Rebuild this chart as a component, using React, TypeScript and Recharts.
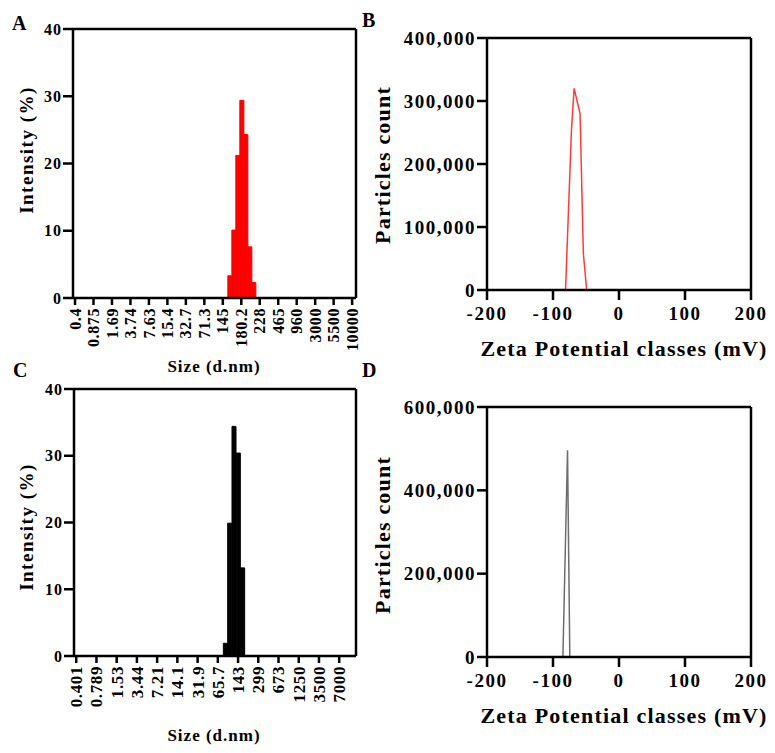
import React from "react";
import { BarChart, Bar, LineChart, Line, XAxis, YAxis, Label, ReferenceLine } from "recharts";

const FONT = "'Liberation Serif', 'Times New Roman', serif";

// A: size distribution by intensity (size class index on x)
const sizeLabelsA = ["0.4", "0.875", "1.69", "3.74", "7.63", "15.4", "32.7", "71.3", "145", "180.2", "228", "465", "960", "3000", "5500", "10000"];
const sizeClassA = [8.38, 8.597, 8.813, 9.03, 9.247, 9.463, 9.68];
const intensityA = [3.3, 10.1, 21.2, 29.4, 24.3, 7.6, 2.3];

// C: second sample
const sizeLabelsC = ["0.401", "0.789", "1.53", "3.44", "7.21", "14.1", "31.9", "65.7", "143", "299", "673", "1250", "3500", "7000"];
const sizeClassC = [7.38, 7.594, 7.808, 8.022, 8.236];
const intensityC = [1.9, 19.9, 34.4, 30.4, 13.2];

// B / D: zeta potential
const zetaB = [-81, -72, -68, -59, -54, -49];
const countB = [0, 255000, 320000, 280000, 58000, 0];
const zetaD = [-85, -78, -74.5];
const countD = [0, 496000, 0];

const intensityTicks = [0, 10, 20, 30, 40];
const zetaTicks = [-200, -100, 0, 100, 200];
const countTicksB = [0, 100000, 200000, 300000, 400000];
const countTicksD = [0, 200000, 400000, 600000];

const dataA = sizeClassA.map((pos, i) => ({ pos, value: intensityA[i] }));
const dataC = sizeClassC.map((pos, i) => ({ pos, value: intensityC[i] }));
const dataB = zetaB.map((zeta, i) => ({ zeta, count: countB[i] }));
const dataD = zetaD.map((zeta, i) => ({ zeta, count: countD[i] }));

const AXIS = { stroke: "#000", strokeWidth: 2.5 };
const fmtCount = (v: number) => v.toLocaleString("en-US");

function RotatedTick(props: any) {
  const { x, y, payload, labels, fontSize, spacing } = props;
  return (
    <text
      x={x}
      y={y}
      dy="0.35em"
      textAnchor="end"
      transform={`rotate(-90, ${x}, ${y})`}
      fontFamily={FONT}
      fontWeight="bold"
      fontSize={fontSize}
      letterSpacing={spacing}
      fill="#000"
    >
      {labels[payload.value]}
    </text>
  );
}

const title =
  (text: string, x: number, y: number, size: number, spacing: number, rotate = false) =>
  () =>
    (
      <text
        x={x}
        y={y}
        textAnchor="middle"
        dominantBaseline={rotate ? "central" : undefined}
        transform={rotate ? `rotate(-90, ${x}, ${y})` : undefined}
        fontFamily={FONT}
        fontWeight="bold"
        fontSize={size}
        letterSpacing={spacing}
        fill="#000"
      >
        {text}
      </text>
    );

const tickStyle = (size: number, spacing: number) => ({
  fill: "#000",
  fontSize: size,
  fontFamily: FONT,
  fontWeight: "bold",
  letterSpacing: spacing,
});

function SizePanel({ data, labels, color, domainMax, tickSize, top, xTitleY, yTitleY }: any) {
  return (
    <BarChart width={380} height={top === 0 ? 380 : 378} data={data} margin={{ top: top === 0 ? 29 : 14, right: 24, left: 0, bottom: 0 }} barCategoryGap={0}>
      <XAxis
        dataKey="pos"
        type="number"
        domain={[-0.11, domainMax]}
        ticks={labels.map((_: string, i: number) => i)}
        interval={0}
        height={top === 0 ? 82 : 97}
        stroke="#000"
        strokeWidth={2.5}
        axisLine={AXIS}
        tickLine={AXIS}
        tickSize={7}
        tickMargin={3}
        tick={(p: any) => <RotatedTick {...p} labels={labels} fontSize={tickSize} spacing={0.6} />}
      >
        <Label content={title("Size (d.nm)", 214, xTitleY, 17, 1)} />
      </XAxis>
      <YAxis
        type="number"
        domain={[0, 40]}
        ticks={intensityTicks}
        width={top === 0 ? 73 : 74}
        stroke="#000"
        strokeWidth={2.5}
        axisLine={AXIS}
        tickLine={AXIS}
        tickSize={10}
        tickMargin={1}
        tick={tickStyle(16, 1)}
      >
        <Label content={title("Intensity (%)", 26, yTitleY, 19, 1.5, true)} />
      </YAxis>
      <ReferenceLine y={40} stroke="#000" strokeWidth={2.5} ifOverflow="visible" />
      <ReferenceLine x={domainMax} stroke="#000" strokeWidth={2.5} ifOverflow="visible" />
      <Bar dataKey="value" fill={color} stroke={color} strokeWidth={1} isAnimationActive={false} />
    </BarChart>
  );
}

function ZetaPanel({ data, color, yMax, yTicks, top, xTitleY, yTitleY }: any) {
  return (
    <LineChart width={415} height={top === 0 ? 375 : 378} data={data} margin={{ top: top === 0 ? 38 : 32, right: 24, left: 0, bottom: 0 }}>
      <XAxis
        dataKey="zeta"
        type="number"
        domain={[-200, 200]}
        ticks={zetaTicks}
        height={top === 0 ? 85 : 96}
        stroke="#000"
        strokeWidth={2.5}
        axisLine={AXIS}
        tickLine={AXIS}
        tickSize={10}
        tickMargin={7}
        tick={tickStyle(19, 1.5)}
      >
        <Label content={title("Zeta Potential classes (mV)", 264, xTitleY, 22, 1.2)} />
      </XAxis>
      <YAxis
        type="number"
        domain={[0, yMax]}
        ticks={yTicks}
        tickFormatter={fmtCount}
        width={127}
        stroke="#000"
        strokeWidth={2.5}
        axisLine={AXIS}
        tickLine={AXIS}
        tickSize={10}
        tickMargin={1}
        tick={tickStyle(19, 1.5)}
      >
        <Label content={title("Particles count", 22, yTitleY, 22, 1.2, true)} />
      </YAxis>
      <ReferenceLine y={yMax} stroke="#000" strokeWidth={2.5} ifOverflow="visible" />
      <ReferenceLine x={200} stroke="#000" strokeWidth={2.5} ifOverflow="visible" />
      <Line type="linear" dataKey="count" stroke={color} strokeWidth={1.5} dot={false} isAnimationActive={false} />
    </LineChart>
  );
}

const letter = (ch: string, left: number, top: number) => (
  <div style={{ position: "absolute", left, top, fontFamily: FONT, fontWeight: "bold", fontSize: 20, lineHeight: "20px" }}>{ch}</div>
);

export default function App() {
  return (
    <div style={{ position: "absolute", left: 0, top: 0, width: 775, height: 753, background: "#fff" }}>
      <div style={{ position: "absolute", left: 0, top: 0 }}>
        <SizePanel data={dataA} labels={sizeLabelsA} color="#ff0000" domainMax={15.21} tickSize={16} top={0} xTitleY={372} yTitleY={150} />
      </div>
      <div style={{ position: "absolute", left: 360, top: 0 }}>
        <ZetaPanel data={dataB} color="#ff3a3a" yMax={400000} yTicks={countTicksB} top={0} xTitleY={356} yTitleY={165} />
      </div>
      <div style={{ position: "absolute", left: 0, top: 375 }}>
        <SizePanel data={dataC} labels={sizeLabelsC} color="#000000" domainMax={13.83} tickSize={17} top={375} xTitleY={366} yTitleY={152} />
      </div>
      <div style={{ position: "absolute", left: 360, top: 375 }}>
        <ZetaPanel data={dataD} color="#6e6e6e" yMax={600000} yTicks={countTicksD} top={375} xTitleY={348} yTitleY={160} />
      </div>
      {letter("A", 12, 13)}
      {letter("B", 362, 10)}
      {letter("C", 13, 360)}
      {letter("D", 362, 360)}
    </div>
  );
}
